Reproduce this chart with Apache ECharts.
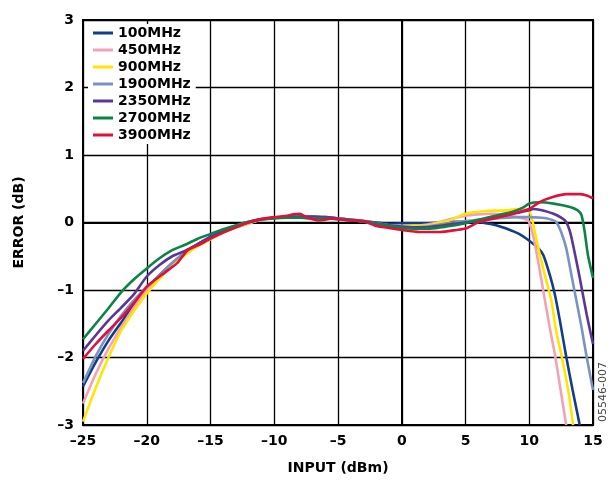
<!DOCTYPE html>
<html>
<head>
<meta charset="utf-8">
<script src="https://cdn.jsdelivr.net/npm/echarts@6/dist/echarts.min.js"></script>
<style>
html,body{margin:0;padding:0;background:#fff;}
#c{width:610px;height:480px;}
</style>
</head>
<body>
<div id="c"></div>
<script>
const seriesNames = ['100MHz','450MHz','900MHz','1900MHz','2350MHz','2700MHz','3900MHz'];
const seriesColors = ['#123c8c','#f2a3b3','#ffe500','#7a93c2','#5a3696','#0a8445','#e0103c'];

const s100 = [[-25,-2.43],[-24,-2.07],[-23,-1.75],[-22,-1.48],[-21,-1.21],[-20,-0.97],[-19,-0.78],[-18,-0.6],[-17,-0.45],[-16,-0.32],[-15,-0.22],[-14,-0.14],[-13,-0.07],[-12,-0.01],[-11,0.04],[-10,0.07],[-9,0.08],[-8,0.08],[-7,0.09],[-6,0.07],[-5,0.06],[-4,0.04],[-3,0.02],[-2,0.0],[-1,-0.02],[0,-0.01],[1,-0.01],[2,-0.01],[3,0.0],[4,0.01],[5,0.01],[6,0.01],[6.6,-0.01],[7.4,-0.04],[8.2,-0.09],[9.2,-0.17],[10,-0.27],[10.7,-0.38],[11.1,-0.48],[11.6,-0.77],[12,-1.06],[12.4,-1.45],[12.9,-1.99],[13.4,-2.48],[13.96,-3.0]];
const s450 = [[-25,-2.68],[-24,-2.24],[-23,-1.87],[-22,-1.55],[-21,-1.26],[-20,-1.0],[-19,-0.8],[-18,-0.61],[-17,-0.46],[-16,-0.33],[-15,-0.23],[-14,-0.14],[-13,-0.07],[-12,-0.01],[-11,0.04],[-10,0.07],[-9,0.08],[-8,0.09],[-7,0.09],[-6,0.08],[-5,0.06],[-4,0.04],[-3,0.02],[-2,-0.01],[-1,-0.04],[0,-0.05],[1,-0.05],[2,-0.03],[3,0.01],[4,0.06],[5,0.1],[6,0.12],[7,0.13],[8,0.12],[9,0.08],[9.9,0.03],[10.3,-0.19],[10.7,-0.58],[11.1,-1.01],[11.6,-1.55],[12,-1.94],[12.5,-2.53],[12.9,-3.0]];
const s900 = [[-25,-2.95],[-24,-2.45],[-23,-2.0],[-22,-1.6],[-21,-1.31],[-20,-1.05],[-19,-0.83],[-18,-0.64],[-17,-0.48],[-16,-0.35],[-15,-0.25],[-14,-0.15],[-13,-0.07],[-12,-0.01],[-11,0.04],[-10,0.07],[-9,0.08],[-8,0.09],[-7,0.09],[-6,0.08],[-5,0.06],[-4,0.04],[-3,0.02],[-2,-0.02],[-1,-0.05],[0,-0.06],[1,-0.05],[2.2,-0.04],[3,0.0],[3.75,0.03],[5,0.13],[6.6,0.17],[8.2,0.18],[9,0.2],[10,0.17],[10.2,0.06],[10.44,-0.14],[10.83,-0.48],[11.35,-0.87],[11.74,-1.16],[12.1,-1.6],[12.5,-1.94],[13.05,-2.48],[13.44,-3.0]];
const s1900 = [[-25,-2.38],[-24,-1.98],[-23,-1.65],[-22,-1.38],[-21,-1.15],[-20,-0.96],[-19,-0.78],[-18,-0.6],[-17,-0.44],[-16,-0.32],[-15,-0.22],[-14,-0.13],[-13,-0.06],[-12,0.0],[-11,0.04],[-10,0.07],[-9,0.08],[-8,0.09],[-7,0.09],[-6,0.08],[-5,0.06],[-4,0.04],[-3,0.02],[-2,-0.02],[-1,-0.05],[0,-0.07],[1,-0.07],[2,-0.06],[3,-0.03],[4,0.0],[5,0.02],[6,0.04],[7.5,0.06],[9,0.08],[10,0.08],[11,0.07],[11.6,0.05],[12.1,0.01],[12.5,-0.14],[12.9,-0.38],[13.3,-0.77],[13.7,-1.16],[14.1,-1.55],[14.5,-1.99],[15,-2.48]];
const s2350 = [[-25,-1.9],[-24,-1.67],[-23,-1.45],[-22,-1.26],[-21,-1.06],[-20,-0.8],[-19,-0.63],[-18,-0.5],[-17,-0.42],[-16,-0.32],[-15,-0.21],[-14,-0.12],[-13,-0.05],[-12,0.01],[-11,0.05],[-10,0.07],[-9,0.08],[-8,0.09],[-7,0.09],[-6,0.08],[-5,0.06],[-4,0.04],[-3,0.02],[-2,-0.01],[-1,-0.04],[0,-0.06],[1,-0.07],[2,-0.07],[3,-0.05],[4,-0.02],[5,0.0],[6,0.03],[7.5,0.08],[9,0.14],[10,0.18],[10.3,0.2],[10.8,0.19],[11.9,0.13],[12.8,0.03],[13.2,-0.14],[13.6,-0.48],[13.96,-0.82],[14.5,-1.36],[15,-1.8]];
const s2700 = [[-25,-1.73],[-24,-1.5],[-23,-1.27],[-22,-1.03],[-21,-0.84],[-20,-0.68],[-19,-0.53],[-18,-0.41],[-17,-0.33],[-16,-0.24],[-15,-0.17],[-14,-0.1],[-13,-0.04],[-12,0.01],[-11,0.05],[-10,0.06],[-9,0.07],[-8,0.07],[-7,0.06],[-6,0.06],[-5,0.05],[-4,0.03],[-3,0.01],[-2,-0.02],[-1,-0.05],[0,-0.08],[1,-0.09],[2.2,-0.09],[3.5,-0.06],[5,-0.01],[6,0.04],[6.9,0.08],[8,0.13],[8.7,0.16],[9.5,0.22],[10,0.28],[10.8,0.3],[11.9,0.28],[13.2,0.23],[13.8,0.18],[14.1,0.11],[14.35,-0.14],[14.6,-0.48],[15,-0.82]];
const s3900 = [[-25,-2.02],[-24,-1.8],[-23,-1.6],[-22,-1.41],[-21,-1.19],[-20,-0.95],[-19,-0.8],[-18,-0.66],[-17.6,-0.6],[-16.8,-0.41],[-16,-0.34],[-15,-0.24],[-14,-0.15],[-13,-0.07],[-12,0.0],[-11,0.05],[-10,0.08],[-9,0.1],[-8.5,0.12],[-8,0.13],[-7.5,0.08],[-7,0.05],[-6.5,0.03],[-6,0.04],[-5.5,0.06],[-5,0.05],[-4,0.03],[-3,0.02],[-2,-0.05],[-1,-0.08],[0,-0.11],[1.4,-0.14],[3,-0.14],[4.3,-0.11],[5,-0.09],[6.1,0.01],[7.7,0.08],[9.27,0.16],[10,0.2],[10.8,0.3],[11.9,0.38],[12.9,0.42],[13.96,0.42],[14.5,0.4],[15,0.36]];

const seriesData = [s100,s450,s900,s1900,s2350,s2700,s3900];
const xTicks = {min:-25, max:15, interval:5};
const yTicks = {min:-3, max:3, interval:1};
const figCode = '05546-007';

const FONT = '"DejaVu Sans", "Liberation Sans", Arial, sans-serif';
const fmt = v => String(v).replace('-', '\u2013');

const chart = echarts.init(document.getElementById('c'), null, {renderer:'canvas'});
chart.setOption({
  animation:false,
  backgroundColor:'#fff',
  grid:{left:83, right:17, top:20, bottom:51, show:true, borderColor:'#000', borderWidth:2, backgroundColor:'transparent'},
  legend:{
    data:seriesNames, orient:'vertical', left:88, top:24,
    backgroundColor:'#fff', padding:[2,5,2,5], itemGap:3,
    icon:'rect', itemWidth:20, itemHeight:3,
    textStyle:{fontFamily:FONT, fontWeight:'bold', fontSize:14, color:'#000', lineHeight:14},
    selectedMode:false
  },
  xAxis:{
    type:'value', min:xTicks.min, max:xTicks.max, interval:xTicks.interval,
    name:'INPUT (dBm)', nameLocation:'middle', nameGap:36,
    nameTextStyle:{fontFamily:FONT, fontWeight:'bold', fontSize:14, color:'#000'},
    axisLine:{show:true, lineStyle:{color:'#000', width:2}},
    axisTick:{show:false},
    axisLabel:{formatter:fmt, fontFamily:FONT, fontWeight:'bold', fontSize:14, color:'#000', margin:9},
    splitLine:{show:true, lineStyle:{color:'#000', width:1.3}}
  },
  yAxis:{
    type:'value', min:yTicks.min, max:yTicks.max, interval:yTicks.interval,
    name:'ERROR (dB)', nameLocation:'middle', nameGap:57, nameRotate:90,
    nameTextStyle:{fontFamily:FONT, fontWeight:'bold', fontSize:14, color:'#000'},
    axisLine:{show:true, lineStyle:{color:'#000', width:2}},
    axisTick:{show:false},
    axisLabel:{formatter:fmt, fontFamily:FONT, fontWeight:'bold', fontSize:14, color:'#000', margin:9},
    splitLine:{show:true, lineStyle:{color:'#000', width:1.3}}
  },
  series: seriesNames.map((n,i)=>({
    name:n, type:'line', data:seriesData[i], showSymbol:false, smooth:0.2,
    clip:true,
    lineStyle:{color:seriesColors[i], width:2.6},
    itemStyle:{color:seriesColors[i]}
  })),
  graphic:[{
    type:'text', left:598, top:362, rotation:Math.PI/2,
    style:{text:figCode, fontFamily:FONT, fontSize:11, fill:'#444'}
  }]
});
</script>
</body>
</html>
